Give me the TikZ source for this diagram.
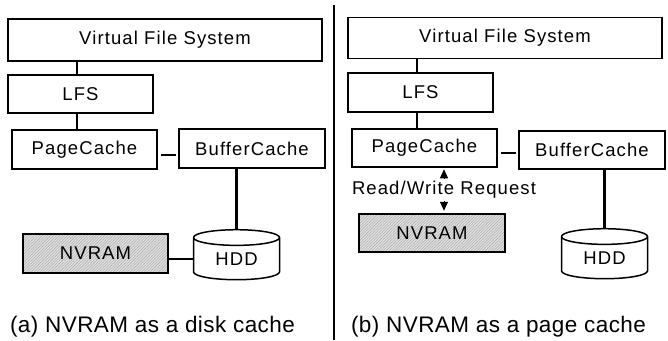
\documentclass[tikz,border=0pt]{standalone}
\usepackage{fontspec}
\setmainfont{Liberation Sans}
\newfontfamily\boxfont{Liberation Sans}[LetterSpace=6]
\newfontfamily\capfont{Liberation Sans}[LetterSpace=2]
\usetikzlibrary{arrows.meta,positioning,shapes.geometric,patterns.meta}

\begin{document}
\begin{tikzpicture}[x=1pt, y=-1pt,
    layer/.style={draw, line width=1.5pt, inner sep=0pt, font=\boxfont\fontsize{18.5}{20}\selectfont},
    nvram/.style={layer, preaction={fill=gray!25}, pattern={Lines[angle=45,distance=2pt,line width=0.4pt]}, pattern color=gray!70},
    disk/.style={cylinder, shape border rotate=90, aspect=0.37, draw, line width=1.5pt, minimum width=86pt, minimum height=50pt, inner sep=0pt, font=\boxfont\fontsize{18.5}{20}\selectfont},
    link/.style={line width=2.8pt},
    caption/.style={font=\capfont\fontsize{22.5}{24}\selectfont}]
    \useasboundingbox (0,0) rectangle (668,340);

    \node[layer, minimum width=314pt, minimum height=42pt] (vfsA) at (165,40) {Virtual File System};
    \node[layer, minimum width=145pt, minimum height=38pt] (lfsA) at (80.5,94) {LFS};
    \node[layer, minimum width=145pt, minimum height=39pt] (pcA) at (84.5,149.5) {PageCache};
    \node[layer, minimum width=146pt, minimum height=39pt] (bcA) at (252,148.5) {BufferCache};
    \node[nvram, minimum width=145pt, minimum height=39pt] (nvA) at (95.5,253.5) {NVRAM};
    \node[disk] (hddA) at (236.5,259) {HDD};
    \node[caption] (capA) at (152.5,327) {(a) NVRAM as a disk cache};

    \draw[link] (lfsA.north -| 77,0) -- (vfsA.south -| 77,0);
    \draw[link] (pcA.north -| 77,0) -- (lfsA.south -| 77,0);
    \draw[link, shorten <=3pt, shorten >=2pt] (pcA.east |- 0,155) -- (bcA.west |- 0,155);
    \draw[link] (hddA.north) -- (hddA.north |- bcA.south);
    \draw[link] (hddA.west) -- (hddA.west -| nvA.east);

    \draw[line width=1.3pt] (334,5) -- (334,340);

    \node[layer, minimum width=314pt, minimum height=41pt] (vfsB) at (505,38) {Virtual File System};
    \node[layer, minimum width=145pt, minimum height=39pt] (lfsB) at (420.5,92.5) {LFS};
    \node[layer, minimum width=145pt, minimum height=38pt] (pcB) at (424.5,148) {PageCache};
    \node[layer, minimum width=146pt, minimum height=38pt] (bcB) at (592,150) {BufferCache};
    \node[font=\boxfont\fontsize{18.5}{20}\selectfont, inner sep=2pt] (rw) at (444,190) {Read/Write Request};
    \node[nvram, minimum width=146pt, minimum height=38pt] (nvB) at (432,233) {NVRAM};
    \node[disk] (hddB) at (604.5,258) {HDD};
    \node[caption] (capB) at (498.5,327) {(b) NVRAM as a page cache};

    \draw[link] (lfsB.north -| 417,0) -- (vfsB.south -| 417,0);
    \draw[link] (pcB.north -| 417,0) -- (lfsB.south -| 417,0);
    \draw[link, shorten <=3pt, shorten >=2pt] (pcB.east |- 0,153) -- (bcB.west |- 0,153);
    \draw[link] (hddB.north) -- (hddB.north |- bcB.south);
    \draw[line width=1pt, -{Triangle[width=8pt,length=9pt]}, shorten >=1.5pt] (rw.north) -- (rw.north |- pcB.south);
    \draw[line width=1pt, -{Triangle[width=8pt,length=9pt]}, shorten >=2.5pt] (rw.south) -- (rw.south |- nvB.north);
\end{tikzpicture}
\end{document}
